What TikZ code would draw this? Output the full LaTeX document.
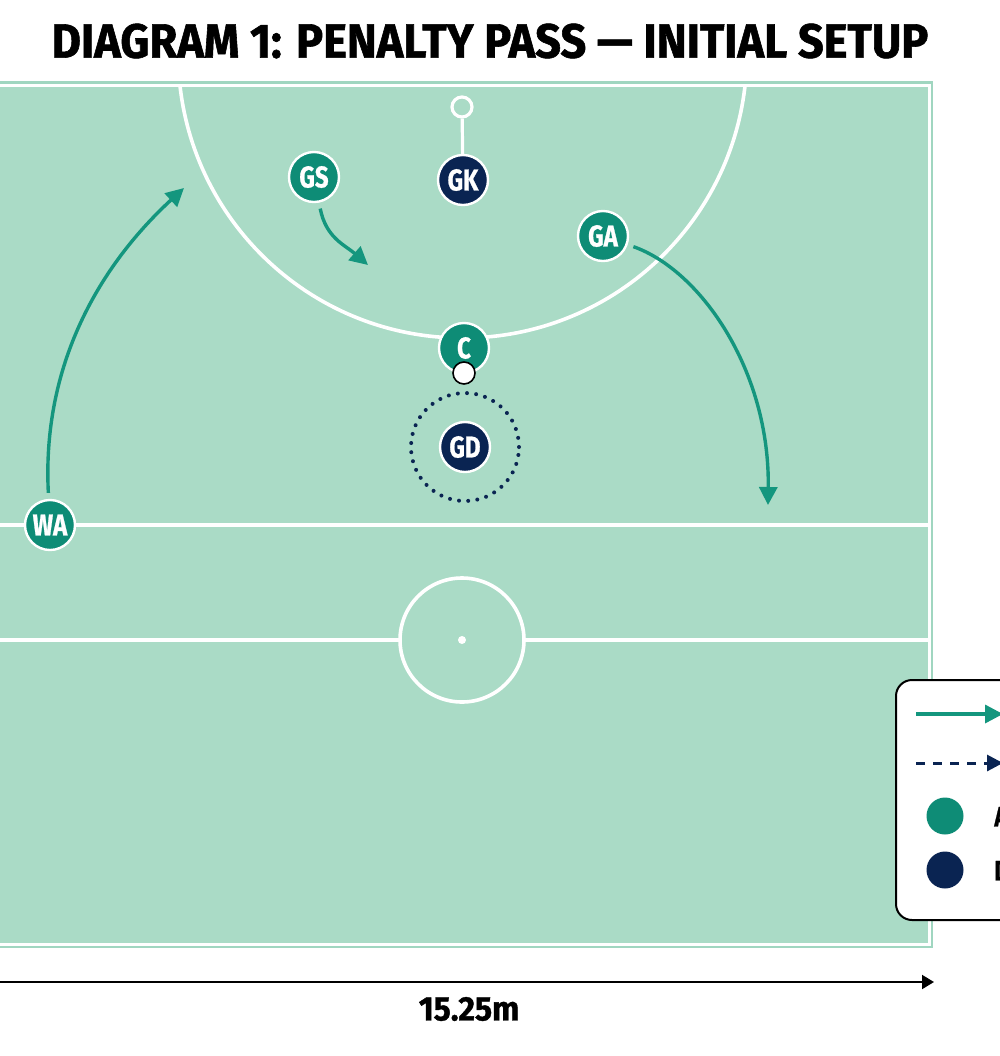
\documentclass[tikz,border=0pt]{standalone}
\usepackage{fontspec}
\usetikzlibrary{arrows.meta}
\newfontfamily\condfont{Fira Sans}[FakeStretch=0.8,FakeBold=0.8]
\newfontfamily\headfont{Fira Sans}[FakeStretch=0.94,FakeBold=1.2]
\definecolor{courtcol}{RGB}{170,219,198}
\definecolor{framecol}{RGB}{160,214,192}
\definecolor{attcol}{RGB}{14,140,118}
\definecolor{runcol}{RGB}{20,150,126}
\definecolor{defcol}{RGB}{10,36,82}
\tikzset{every picture/.style={x=0.5pt,y=-0.5pt}}
\tikzset{player/.style={circle,draw=white,line width=1.2pt,minimum size=25pt,inner sep=0pt,text=white,font=\condfont\bfseries\fontsize{15}{15}\selectfont}}
\tikzset{attack/.style={fill=attcol}}
\tikzset{defend/.style={fill=defcol}}
\tikzset{court/.style={white,line width=1.8pt}}
\tikzset{run/.style={runcol,line width=1.7pt,-{Triangle[length=9pt,width=9pt]},shorten <=3pt}}
\tikzset{pass/.style={defcol,line width=1.5pt,dash pattern=on 4.5pt off 4pt,-{Triangle[length=8pt,width=8pt]}}}
\tikzset{legendbox/.style={fill=white,draw=black,line width=1pt,rounded corners=8pt}}
\tikzset{legenddot/.style={circle,minimum size=18.5pt,inner sep=0pt}}
\tikzset{widthline/.style={black,line width=1pt,-{Triangle[length=6pt,width=7pt]}}}

\begin{document}
\begin{tikzpicture}
\useasboundingbox (0,0) rectangle (1000,1056);
\clip (0,0) rectangle (1000,1056);
\fill[white] (0,0) rectangle (1000,1056);

\node[font=\headfont\bfseries\fontsize{24}{24}\selectfont] (title) at (490,41) {DIAGRAM 1: PENALTY PASS — INITIAL SETUP};

% court
\fill[framecol] (-10,81) rectangle (933,948);
\fill[courtcol] (-10,86) rectangle (929,944);
\draw[white,line width=1.5pt] (-10,85) rectangle (929.5,944.5);
\begin{scope}
\clip (-10,86) rectangle (929,944);
\draw[court] (462.5,53.7) circle (284.3);
\end{scope}
\draw[court] (-10,525) -- (929,525);
\node[circle,draw=white,line width=1.8pt,minimum size=62pt,inner sep=0pt] (centre) at (462,640) {};
\draw[court] (-10,640) -- (centre.west);
\draw[court] (centre.east) -- (929,640);
\fill[white] (centre.center) circle (4);

% goal post
\node[circle,draw=white,line width=1.6pt,fill=courtcol,minimum size=10pt,inner sep=0pt] (post) at (462,107) {};
\node[player,defend] (gk) at (463,180) {GK};
\draw[white,line width=1.6pt] (post) -- (gk);

% players
\node[player,attack] (gs) at (314,177) {GS};
\node[player,attack] (ga) at (603,236) {GA};
\node[player,attack] (c) at (464,348) {C};
\node[circle,draw=defcol,line width=2pt,line cap=round,dash pattern=on 0pt off 4.6pt,minimum size=54pt,inner sep=0pt] (gdzone) at (465,447) {};
\node[player,defend] (gd) at (465,447) {GD};
\node[player,attack] (wa) at (50,525) {WA};
\node[circle,fill=white,draw=black,line width=0.8pt,minimum size=11pt,inner sep=0pt] (ball) at (464,373) {};

% runs
\coordinate (gsto) at (368,265);
\coordinate (wato) at (184,188);
\coordinate (gato) at (768,505);
\draw[run] (gs) .. controls (326,238) and (345,245) .. (gsto);
\draw[run] (wa) .. controls (42,370) and (95,270) .. (wato);
\draw[run] (ga) .. controls (700,270) and (770,370) .. (gato);

% legend
\draw[legendbox] (896,680) rectangle (1060,920);
\coordinate (k1a) at (916,714);
\coordinate (k1b) at (1003,714);
\coordinate (k2a) at (916,763);
\coordinate (k2b) at (1003,763);
\draw[run,shorten <=0pt] (k1a) -- (k1b);
\draw[pass] (k2a) -- (k2b);
\node[legenddot,attack] (k3) at (945,816) {};
\node[legenddot,defend] (k4) at (945,870) {};
\node[anchor=west,inner sep=0pt,font=\condfont\bfseries\fontsize{14}{14}\selectfont] (k3t) at (994,816) {Attack};
\node[anchor=west,inner sep=0pt,font=\condfont\bfseries\fontsize{14}{14}\selectfont] (k4t) at (994,870) {Defence};

% width
\coordinate (w0) at (-10,982);
\coordinate (w1) at (934,982);
\draw[widthline] (w0) -- (w1);
\node[font=\headfont\bfseries\fontsize{17}{17}\selectfont] (wlabel) at (469,1009) {15.25m};
\end{tikzpicture}
\end{document}
